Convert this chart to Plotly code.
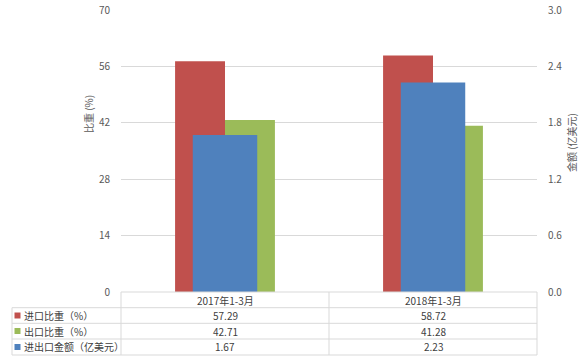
import plotly.graph_objects as go

categories = ["2017年1-3月", "2018年1-3月"]
import_share = [57.29, 58.72]
export_share = [42.71, 41.28]
trade_value = [1.67, 2.23]
series_names = ["进口比重（%）", "出口比重（%）", "进出口金额（亿美元）"]
colors = ["#C0504D", "#9BBB59", "#4F81BD"]
left_ticks = [0, 14, 28, 42, 56, 70]
right_ticks = [0.0, 0.6, 1.2, 1.8, 2.4, 3.0]
left_title = "比重 (%)"
right_title = "金额 (亿美元)"

FONT = "Noto Sans CJK SC, Liberation Sans, sans-serif"
GRAY = "#595959"
TXT = "#404040"

fig = go.Figure()
fig.add_trace(go.Bar(x=categories, y=import_share, name=series_names[0], marker_color=colors[0],
                     width=0.24, offset=-0.24, yaxis="y", marker_line_width=0))
fig.add_trace(go.Bar(x=categories, y=export_share, name=series_names[1], marker_color=colors[1],
                     width=0.24, offset=0.0, yaxis="y", marker_line_width=0))
fig.add_trace(go.Bar(x=categories, y=trade_value, name=series_names[2], marker_color=colors[2],
                     width=0.31, offset=-0.155, yaxis="y2", marker_line_width=0))

# Data table
H = 282.0
W = 416.0
def py(px):
    return (292 - px) / H
def pxx(px):
    return (px - 121) / W

row_lines = [292, 307.7, 323.3, 339, 355]
shapes = []
line_style = dict(color="#D9D9D9", width=1)
shapes.append(dict(type="line", xref="paper", yref="paper", x0=0, x1=1, y0=py(292), y1=py(292), line=line_style))
for yy in row_lines[1:]:
    shapes.append(dict(type="line", xref="paper", yref="paper", x0=pxx(12), x1=1, y0=py(yy), y1=py(yy), line=line_style))
for xx in [121, 329, 537]:
    shapes.append(dict(type="line", xref="paper", yref="paper", x0=pxx(xx), x1=pxx(xx), y0=py(292), y1=py(355), line=line_style))
shapes.append(dict(type="line", xref="paper", yref="paper", x0=pxx(12), x1=pxx(12), y0=py(307.7), y1=py(355), line=line_style))

annotations = []
for i, c in enumerate(categories):
    annotations.append(dict(x=c, y=py(300), xref="x", yref="paper", text=c, showarrow=False,
                            xanchor="center", yanchor="middle",
                            font=dict(family=FONT, size=10, color=TXT)))
rows = [import_share, export_share, trade_value]
row_centers = [315.5, 331, 347]
for r, (vals, yc) in enumerate(zip(rows, row_centers)):
    for c, v in zip(categories, vals):
        annotations.append(dict(x=c, y=py(yc), xref="x", yref="paper", text=f"{v:.2f}", showarrow=False,
                                xanchor="center", yanchor="middle",
                                font=dict(family=FONT, size=10, color=TXT)))
    shapes.append(dict(type="rect", xref="paper", yref="paper", x0=pxx(14.5), x1=pxx(20.5),
                       y0=py(yc + 3), y1=py(yc - 3), fillcolor=colors[r], line=dict(width=0)))
    annotations.append(dict(x=pxx(22), y=py(yc), xref="paper", yref="paper", text=series_names[r],
                            showarrow=False, xanchor="left", yanchor="middle",
                            font=dict(family=FONT, size=10, color=TXT)))

annotations.append(dict(x=pxx(88), y=py(114), xref="paper", yref="paper",
                        text=left_title, textangle=-90, showarrow=False,
                        xanchor="center", yanchor="middle",
                        font=dict(family=FONT, size=10, color=GRAY)))
annotations.append(dict(x=pxx(571), y=py(143), xref="paper", yref="paper",
                        text=right_title, textangle=-90, showarrow=False,
                        xanchor="center", yanchor="middle",
                        font=dict(family=FONT, size=10, color=GRAY)))

fig.update_layout(
    width=580, height=356,
    margin=dict(l=121, r=43, t=10, b=64, autoexpand=False),
    paper_bgcolor="white", plot_bgcolor="white",
    barmode="overlay",
    showlegend=False,
    font=dict(family=FONT, size=10, color=GRAY),
    xaxis=dict(type="category", range=[-0.5, 1.5], showticklabels=False, showgrid=False,
               showline=False, zeroline=False, ticks=""),
    yaxis=dict(range=[0, 70], tickvals=left_ticks, showgrid=True, gridcolor="#D9D9D9", gridwidth=1,
               zeroline=False, showline=False, ticks="", ticklabelstandoff=10, automargin=False,
               tickfont=dict(family=FONT, size=10, color=GRAY)),
    yaxis2=dict(range=[0, 3.0], tickvals=right_ticks, ticktext=[f"{t:.1f}" for t in right_ticks],
                overlaying="y", side="right", showgrid=False, zeroline=False, showline=False, ticks="",
                ticklabelstandoff=10, automargin=False,
                tickfont=dict(family=FONT, size=10, color=GRAY)),
    shapes=shapes,
    annotations=annotations,
)

fig.write_html("out.html", config={"displayModeBar": False},
               post_script="document.body.style.margin='0';document.body.style.overflow='hidden';")
